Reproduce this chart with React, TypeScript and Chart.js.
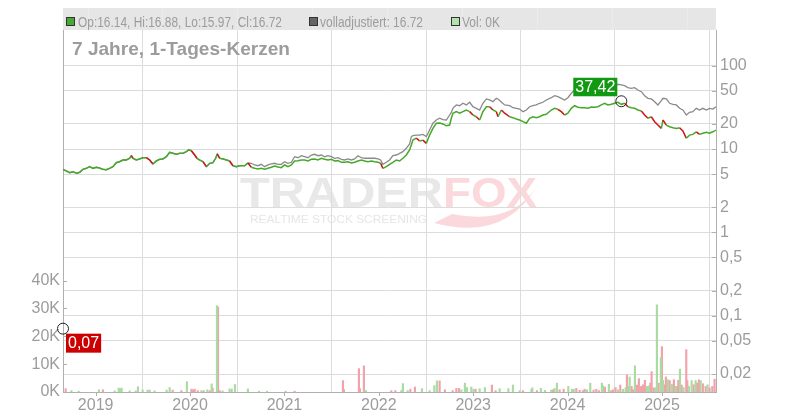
import React, { useEffect, useRef } from "react";
import { Chart, registerables } from "chart.js";
Chart.register(...registerables);

// ---------- DATA ----------
const X_MIN = 2018.654;
const X_MAX = 2025.572;
const yearTicks = [2019, 2020, 2021, 2022, 2023, 2024, 2025];
const priceTicks = [0.02, 0.05, 0.1, 0.2, 0.5, 1, 2, 5, 10, 20, 50, 100];
const volumeTicks = [0, 10000, 20000, 30000, 40000];

const priceYears = [
  2018.654, 2018.690, 2018.725, 2018.760, 2018.796, 2018.831, 2018.865, 2018.901, 2018.936, 2018.971,
  2019.007, 2019.042, 2019.077, 2019.113, 2019.148, 2019.183, 2019.219, 2019.254, 2019.289, 2019.325,
  2019.360, 2019.378, 2019.395, 2019.431, 2019.466, 2019.501, 2019.537, 2019.572, 2019.607, 2019.643,
  2019.678, 2019.713, 2019.749, 2019.784, 2019.819, 2019.855, 2019.890, 2019.925, 2019.961, 2019.988,
  2020.014, 2020.049, 2020.073, 2020.102, 2020.137, 2020.173, 2020.208, 2020.243, 2020.271, 2020.289,
  2020.314, 2020.349, 2020.385, 2020.419, 2020.454, 2020.490, 2020.525, 2020.578, 2020.613, 2020.649,
  2020.684, 2020.719, 2020.755, 2020.790, 2020.825, 2020.861, 2020.896, 2020.931, 2020.967, 2021.002,
  2021.037, 2021.073, 2021.108, 2021.143, 2021.179, 2021.214, 2021.249, 2021.285, 2021.320, 2021.355,
  2021.391, 2021.426, 2021.461, 2021.497, 2021.532, 2021.567, 2021.603, 2021.638, 2021.673, 2021.709,
  2021.744, 2021.779, 2021.815, 2021.850, 2021.885, 2021.921, 2021.956, 2021.991, 2022.019, 2022.043,
  2022.079, 2022.114, 2022.149, 2022.185, 2022.220, 2022.255, 2022.291, 2022.326, 2022.344, 2022.361,
  2022.397, 2022.432, 2022.467, 2022.503, 2022.538, 2022.573, 2022.609, 2022.644, 2022.679, 2022.715,
  2022.750, 2022.768, 2022.785, 2022.821, 2022.856, 2022.891, 2022.927, 2022.962, 2022.997, 2023.033,
  2023.068, 2023.103, 2023.139, 2023.174, 2023.209, 2023.245, 2023.262, 2023.298, 2023.333, 2023.386,
  2023.421, 2023.457, 2023.492, 2023.527, 2023.563, 2023.597, 2023.632, 2023.668, 2023.703, 2023.738,
  2023.774, 2023.827, 2023.862, 2023.897, 2023.933, 2023.968, 2024.003, 2024.039, 2024.074, 2024.109,
  2024.145, 2024.180, 2024.215, 2024.251, 2024.286, 2024.321, 2024.357, 2024.392, 2024.427, 2024.463,
  2024.498, 2024.533, 2024.569, 2024.604, 2024.639, 2024.675, 2024.710, 2024.745, 2024.781, 2024.816,
  2024.851, 2024.887, 2024.922, 2024.957, 2024.993, 2025.010, 2025.046, 2025.081, 2025.116, 2025.152,
  2025.186, 2025.221, 2025.257, 2025.292, 2025.327, 2025.363, 2025.398, 2025.433, 2025.469, 2025.504,
  2025.539, 2025.571,
];

const closePrices = [
  5.71, 5.45, 5.20, 5.35, 5.12, 5.26, 5.71, 5.87, 6.14, 5.87,
  6.04, 5.92, 5.71, 5.65, 5.87, 6.14, 6.86, 7.05, 7.39, 7.39,
  7.75, 8.32, 7.75, 7.39, 7.60, 7.87, 7.87, 7.39, 6.62, 7.19,
  7.54, 7.60, 8.09, 9.14, 8.89, 8.65, 8.89, 8.89, 9.30, 9.82,
  9.55, 8.48, 7.75, 7.39, 7.05, 6.14, 6.74, 6.86, 7.75, 8.72,
  7.75, 7.60, 7.39, 7.19, 6.31, 6.14, 6.31, 6.31, 6.80, 6.04,
  5.87, 5.76, 5.87, 5.71, 5.87, 6.04, 6.26, 6.09, 5.98, 6.44,
  6.14, 6.44, 7.19, 7.26, 7.39, 7.39, 7.19, 7.54, 7.60, 7.39,
  7.75, 7.54, 7.39, 7.54, 7.19, 7.26, 6.93, 6.93, 7.05, 6.80,
  6.93, 7.19, 7.39, 7.19, 7.05, 7.19, 7.05, 6.93, 6.75, 5.87,
  6.14, 6.56, 6.90, 7.39, 7.19, 7.75, 8.48, 9.74, 11.2, 12.8,
  13.5, 12.5, 12.8, 11.7, 14.7, 17.7, 20.4, 20.5, 20.0, 19.0,
  19.4, 23.4, 26.9, 28.1, 26.9, 28.1, 29.4, 28.1, 25.6, 24.4,
  22.3, 28.1, 32.2, 32.2, 29.4, 28.1, 24.4, 29.4, 26.9, 24.4,
  23.8, 22.9, 22.3, 21.3, 20.4, 23.4, 24.4, 23.8, 24.4, 25.6,
  26.1, 29.4, 30.8, 30.0, 28.1, 25.6, 26.9, 30.8, 33.1, 31.7,
  31.3, 31.3, 30.8, 31.9, 31.7, 32.2, 33.8, 35.4, 33.8, 34.4,
  35.4, 36.4, 34.4, 35.4, 32.2, 31.3, 30.8, 29.4, 28.6, 25.6,
  23.4, 24.4, 21.3, 19.4, 17.7, 22.3, 19.4, 18.5, 18.0, 17.7,
  18.0, 16.5, 13.5, 14.7, 15.0, 16.1, 15.0, 15.5, 15.9, 15.5,
  16.1, 16.9,
];

const adjustedPrices = [
  5.71, 5.45, 5.20, 5.35, 5.12, 5.26, 5.71, 5.87, 6.14, 5.87,
  6.04, 5.92, 5.71, 5.65, 5.87, 6.14, 6.86, 7.05, 7.39, 7.39,
  7.75, 8.32, 7.75, 7.39, 7.60, 7.87, 7.87, 7.39, 6.62, 7.19,
  7.54, 7.60, 8.09, 9.14, 8.89, 8.65, 8.89, 8.89, 9.30, 9.82,
  9.55, 8.48, 7.75, 7.39, 7.05, 6.14, 6.74, 6.86, 7.75, 8.72,
  7.75, 7.60, 7.39, 7.19, 6.31, 6.14, 6.31, 6.31, 6.80, 6.75,
  6.44, 6.31, 6.56, 6.14, 6.44, 6.62, 6.75, 6.56, 6.56, 7.05,
  6.75, 6.93, 8.09, 7.87, 8.32, 8.09, 7.87, 8.48, 8.65, 8.32,
  8.48, 8.09, 8.32, 8.09, 7.75, 7.87, 7.54, 7.39, 7.60, 7.39,
  7.60, 8.32, 7.87, 7.75, 7.75, 7.75, 7.75, 7.60, 7.39, 6.56,
  6.93, 7.39, 8.32, 8.48, 8.89, 9.30, 10.2, 11.5, 14.0, 14.5,
  14.7, 14.7, 15.0, 14.1, 16.9, 20.4, 22.3, 23.4, 22.5, 22.3,
  25.6, 27.5, 30.8, 33.8, 33.1, 35.4, 33.8, 36.4, 32.2, 30.8,
  29.4, 35.4, 39.9, 38.8, 37.0, 40.6, 39.9, 36.7, 33.8, 33.1,
  31.3, 30.8, 30.2, 28.1, 29.4, 32.2, 33.1, 33.8, 35.4, 36.4,
  38.8, 41.3, 43.6, 42.5, 40.6, 38.8, 41.3, 46.7, 51.1, 52.0,
  52.0, 53.0, 52.0, 54.0, 54.0, 55.0, 56.0, 58.0, 56.0, 57.0,
  55.0, 59.8, 58.7, 57.5, 54.5, 53.5, 54.5, 51.1, 48.8, 43.6,
  40.6, 39.9, 37.0, 33.8, 38.0, 40.6, 39.9, 35.4, 34.4, 33.8,
  30.8, 29.4, 25.6, 27.6, 28.1, 30.8, 29.4, 30.8, 29.4, 30.8,
  30.2, 32.2,
];

const upVolumeYears = [
  2018.743, 2018.820, 2019.035, 2019.201, 2019.244, 2019.260, 2019.275, 2019.360, 2019.424, 2019.448,
  2019.498, 2019.551, 2019.572, 2019.625, 2019.752, 2019.784, 2019.967, 2020.120, 2020.183, 2020.229,
  2020.285, 2020.345, 2020.419, 2020.441, 2020.476, 2020.613, 2020.730, 2020.815, 2021.013, 2021.853,
  2021.863, 2022.238, 2022.255, 2022.305, 2022.457, 2022.538, 2022.588, 2022.615, 2022.874, 2022.912,
  2022.933, 2022.980, 2023.004, 2023.068, 2023.124, 2023.280, 2023.372, 2023.421, 2023.492, 2023.616,
  2023.626, 2023.717, 2023.760, 2023.827, 2023.862, 2023.887, 2024.007, 2024.046, 2024.064, 2024.204,
  2024.240, 2024.363, 2024.374, 2024.437, 2024.533, 2024.586, 2024.614, 2024.643, 2024.657, 2024.713,
  2024.840, 2024.861, 2024.929, 2024.946, 2024.988, 2025.010, 2025.063, 2025.105, 2025.144, 2025.190,
  2025.229, 2025.285, 2025.314, 2025.356, 2025.409, 2025.483,
];
const upVolumeValues = [
  500, 300, 800, 400, 1400, 1200, 1400, 400, 400, 1900,
  700, 700, 700, 400, 700, 1600, 3700, 500, 800, 2900,
  31000, 400, 1100, 1100, 2700, 1100, 300, 300, 300, 500,
  500, 500, 3000, 500, 1200, 500, 2300, 4000, 800, 3200,
  1600, 1800, 1000, 1200, 1600, 1200, 1200, 2500, 500, 900,
  1500, 1300, 600, 700, 1300, 3200, 2000, 1000, 1000, 800,
  3200, 3200, 2200, 2800, 800, 1000, 1500, 2000, 5400, 9400,
  2000, 2200, 1500, 31300, 12300, 4200, 4400, 2800, 2000, 8200,
  1600, 2000, 4100, 4100, 4100, 2600,
];

const downVolumeYears = [
  2018.682, 2019.077, 2019.816, 2019.908, 2020.014, 2020.031, 2020.049, 2020.081, 2020.144, 2020.208,
  2020.239, 2020.296, 2020.314, 2021.108, 2021.620, 2021.630, 2021.789, 2021.800, 2021.842, 2022.132,
  2022.175, 2022.334, 2022.382, 2022.644, 2022.700, 2022.782, 2022.821, 2022.849, 2023.025, 2023.198,
  2023.237, 2023.527, 2023.675, 2023.844, 2023.915, 2023.958, 2024.092, 2024.127, 2024.162, 2024.180,
  2024.275, 2024.304, 2024.332, 2024.395, 2024.463, 2024.480, 2024.508, 2024.558, 2024.628, 2024.678,
  2024.692, 2024.734, 2024.755, 2024.777, 2024.798, 2024.819, 2024.876, 2024.890, 2024.911, 2024.964,
  2024.999, 2025.028, 2025.041, 2025.081, 2025.126, 2025.158, 2025.173, 2025.208, 2025.257, 2025.268,
  2025.335, 2025.370, 2025.391, 2025.433, 2025.462, 2025.504, 2025.533, 2025.557,
];
const downVolumeValues = [
  1200, 800, 700, 500, 1000, 800, 1000, 500, 500, 500,
  1400, 30500, 500, 300, 4100, 900, 8400, 1200, 9400, 500,
  500, 1000, 1800, 4000, 800, 500, 1300, 1300, 1000, 2500,
  500, 500, 500, 800, 800, 1000, 1300, 600, 500, 1000,
  700, 1000, 500, 1800, 500, 800, 1600, 2500, 6100, 2000,
  800, 2500, 4800, 2000, 2600, 4200, 3200, 7300, 1500, 3200,
  16300, 2600, 5400, 4100, 4400, 2000, 4200, 2500, 15200, 4100,
  2600, 3200, 4400, 3000, 2000, 1500, 2000, 4600,
];

const lowMarkerYear = 2018.654;
const lowMarkerValue = 0.07;
const lowMarkerLabel = "0,07";
const highMarkerYear = 2024.569;
const highMarkerValue = 37.42;
const highMarkerLabel = "37,42";

const legendTexts = ["Op:16.14, Hi:16.88, Lo:15.97, Cl:16.72", "volladjustiert: 16.72", "Vol: 0K"];
const titleText = "7 Jahre, 1-Tages-Kerzen";

// ---------- STYLE ----------
const FONT = '"Liberation Sans", Arial, Helvetica, sans-serif';
const GREEN = "#46a82a";
const RED = "#cc1414";
const GREY_LINE = "#8a8a8a";
const GRID = "#dcdcdc";
const AXIS = "#b0b0b0";
const TEXT = "#9c9c9c";

function fitText(ctx: CanvasRenderingContext2D, text: string, x: number, y: number, w: number) {
  const m = ctx.measureText(text).width;
  ctx.save();
  ctx.translate(x, y);
  ctx.scale(w / m, 1);
  ctx.fillText(text, 0, 0);
  ctx.restore();
}

const overlayPlugin = {
  id: "overlay",
  beforeDraw(chart: any) {
    const ctx: CanvasRenderingContext2D = chart.ctx;
    ctx.save();
    ctx.textBaseline = "alphabetic";
    ctx.textAlign = "left";
    // watermark
    ctx.font = `bold 42px ${FONT}`;
    ctx.fillStyle = "#e8e8e8";
    fitText(ctx, "TRADER", 240, 207, 203);
    ctx.fillStyle = "#fbd8dc";
    fitText(ctx, "FOX", 443, 207, 94);
    ctx.beginPath();
    ctx.moveTo(434, 223);
    ctx.quadraticCurveTo(505, 242, 537, 186);
    ctx.quadraticCurveTo(512, 226, 452, 214);
    ctx.closePath();
    ctx.fill();
    ctx.font = `11px ${FONT}`;
    ctx.fillStyle = "#e6e6e6";
    fitText(ctx, "REALTIME STOCK SCREENING", 250, 223, 177);
    ctx.restore();
  },
  afterDraw(chart: any) {
    const ctx: CanvasRenderingContext2D = chart.ctx;
    const area = chart.chartArea;
    const xs = chart.scales.x;
    const ys = chart.scales.y;
    const yv = chart.scales.yVol;
    ctx.save();
    // legend bar
    ctx.fillStyle = "#e6e6e6";
    ctx.fillRect(area.left, 8, area.right - area.left, 22);
    ctx.strokeStyle = "#ebebeb";
    ctx.lineWidth = 1;
    [88, 162, 237, 312, 387, 462, 537, 612, 687].forEach((lx) => {
      ctx.beginPath();
      ctx.moveTo(lx + 0.5, 8);
      ctx.lineTo(lx + 0.5, 30);
      ctx.stroke();
    });
    const squares = [
      { x: 66, fill: "#44aa33" },
      { x: 309, fill: "#666666" },
      { x: 451, fill: "#b2e2aa" },
    ];
    squares.forEach((s) => {
      ctx.fillStyle = "#333";
      ctx.fillRect(s.x, 17, 9, 9);
      ctx.fillStyle = s.fill;
      ctx.fillRect(s.x + 1, 18, 7, 7);
    });
    ctx.font = `14px ${FONT}`;
    ctx.fillStyle = TEXT;
    ctx.textBaseline = "alphabetic";
    fitText(ctx, legendTexts[0], 78, 26.5, 204);
    fitText(ctx, legendTexts[1], 320, 26.5, 103);
    fitText(ctx, legendTexts[2], 462, 26.5, 38);

    // title
    ctx.font = `bold 19px ${FONT}`;
    ctx.fillStyle = TEXT;
    fitText(ctx, titleText, 72, 55, 218);

    // inner tick marks
    ctx.strokeStyle = AXIS;
    ctx.lineWidth = 1;
    priceTicks.forEach((v) => {
      const py = Math.round(ys.getPixelForValue(v)) + 0.5;
      ctx.beginPath();
      ctx.moveTo(area.right - 4, py);
      ctx.lineTo(area.right, py);
      ctx.stroke();
    });
    volumeTicks.forEach((v) => {
      const py = Math.round(yv.getPixelForValue(v)) + 0.5;
      ctx.beginPath();
      ctx.moveTo(area.left, py);
      ctx.lineTo(area.left + 4, py);
      ctx.stroke();
    });
    yearTicks.forEach((v) => {
      const px = Math.round(xs.getPixelForValue(v)) + 0.5;
      ctx.beginPath();
      ctx.moveTo(px, area.bottom);
      ctx.lineTo(px, area.bottom + 4);
      ctx.stroke();
    });

    // marker labels
    ctx.font = `16px ${FONT}`;
    ctx.textBaseline = "middle";
    ctx.textAlign = "center";
    const lx = xs.getPixelForValue(lowMarkerYear);
    const ly = ys.getPixelForValue(lowMarkerValue);
    const lw = ctx.measureText(lowMarkerLabel).width + 4;
    ctx.fillStyle = "#cc0000";
    ctx.fillRect(lx + 3, ly + 5, lw, 19);
    ctx.fillStyle = "#ffffff";
    ctx.fillText(lowMarkerLabel, lx + 3 + lw / 2, ly + 15);

    const hx = xs.getPixelForValue(highMarkerYear);
    const hy = ys.getPixelForValue(highMarkerValue);
    const hw = ctx.measureText(highMarkerLabel).width + 4;
    ctx.fillStyle = "#119911";
    ctx.fillRect(hx - 4 - hw, hy - 23.5, hw, 18.5);
    ctx.fillStyle = "#ffffff";
    ctx.fillText(highMarkerLabel, hx - 4 - hw / 2, hy - 14);
    ctx.restore();
  },
};

export default function App() {
  const ref = useRef<HTMLCanvasElement | null>(null);

  useEffect(() => {
    if (!ref.current) return;
    Chart.defaults.font.family = FONT;
    const closeData = priceYears.map((x, i) => ({ x, y: closePrices[i] }));
    const adjData = priceYears.map((x, i) => ({ x, y: adjustedPrices[i] }));
    const upVol = upVolumeYears.map((x, i) => ({ x, y: upVolumeValues[i] }));
    const downVol = downVolumeYears.map((x, i) => ({ x, y: downVolumeValues[i] }));
    const markers = [
      { x: lowMarkerYear, y: lowMarkerValue },
      { x: highMarkerYear, y: highMarkerValue },
    ];

    const chart = new Chart(ref.current, {
      type: "line",
      data: {
        datasets: [
          {
            type: "line",
            data: markers,
            yAxisID: "y",
            showLine: false,
            pointRadius: 5.5,
            pointBorderColor: "#222",
            pointBackgroundColor: "rgba(0,0,0,0)",
            pointBorderWidth: 1,
            clip: false,
            order: 0,
          } as any,
          {
            type: "line",
            data: closeData,
            yAxisID: "y",
            borderColor: GREEN,
            borderWidth: 1.5,
            pointRadius: 0,
            tension: 0,
            segment: {
              borderColor: (c: any) => (c.p1.parsed.y < c.p0.parsed.y * 0.94 ? RED : GREEN),
            },
            order: 1,
          } as any,
          {
            type: "line",
            data: adjData,
            yAxisID: "y",
            borderColor: GREY_LINE,
            borderWidth: 1.3,
            pointRadius: 0,
            tension: 0,
            order: 2,
          } as any,
          {
            type: "bar",
            data: upVol,
            yAxisID: "yVol",
            backgroundColor: "#a9dba2",
            barThickness: 1.5,
            grouped: false,
            order: 3,
          } as any,
          {
            type: "bar",
            data: downVol,
            yAxisID: "yVol",
            backgroundColor: "#f2a2aa",
            barThickness: 1.5,
            grouped: false,
            order: 4,
          } as any,
        ],
      },
      options: {
        animation: false,
        responsive: false,
        events: [],
        layout: { padding: { top: 30, left: 0, right: 0, bottom: 0 } },
        plugins: { legend: { display: false }, tooltip: { enabled: false } },
        scales: {
          x: {
            type: "linear",
            min: X_MIN,
            max: X_MAX,
            offset: false,
            afterBuildTicks: (s: any) => {
              s.ticks = yearTicks.map((v) => ({ value: v }));
            },
            afterFit: (s: any) => {
              s.height = 28;
            },
            grid: { color: GRID, drawTicks: false },
            border: { color: AXIS },
            ticks: {
              color: TEXT,
              font: { size: 16 },
              padding: 4,
              maxRotation: 0,
              autoSkip: false,
              callback: (v: any) => String(v),
            },
          },
          y: {
            type: "logarithmic",
            position: "right",
            min: 0.01217,
            max: 268,
            afterBuildTicks: (s: any) => {
              s.ticks = priceTicks.map((v) => ({ value: v }));
            },
            afterFit: (s: any) => {
              s.width = 84;
            },
            grid: { color: GRID, drawTicks: false },
            border: { color: AXIS },
            ticks: {
              color: TEXT,
              font: { size: 16 },
              padding: 4,
              autoSkip: false,
              callback: (v: any) => String(v).replace(".", ","),
            },
          },
          yVol: {
            type: "linear",
            position: "left",
            min: 0,
            max: 130000,
            afterBuildTicks: (s: any) => {
              s.ticks = volumeTicks.map((v) => ({ value: v }));
            },
            afterFit: (s: any) => {
              s.width = 63;
            },
            grid: { display: false, drawTicks: false },
            border: { color: AXIS },
            ticks: {
              color: TEXT,
              font: { size: 16 },
              padding: 3,
              autoSkip: false,
              callback: (v: any) => `${Number(v) / 1000}K`,
            },
          },
        },
      } as any,
      plugins: [overlayPlugin],
    });
    return () => chart.destroy();
  }, []);

  return (
    <div style={{ position: "absolute", left: 0, top: 0, width: 800, height: 420, background: "#fff" }}>
      <canvas ref={ref} width={800} height={420} style={{ display: "block", width: 800, height: 420 }} />
    </div>
  );
}
